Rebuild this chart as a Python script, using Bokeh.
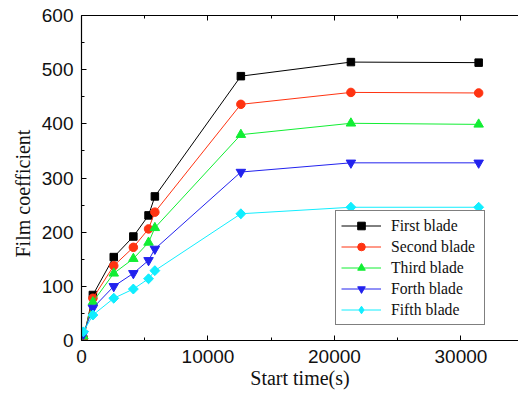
import math
from bokeh.plotting import figure
from bokeh.models import LinearAxis, Legend, LegendItem, Range1d, FixedTicker, Title
from bokeh.embed import file_html
from bokeh.resources import INLINE

# Data
start_time = [150, 900, 2550, 4100, 5300, 5800, 12600, 21300, 31400]
first_blade = [2, 84, 154, 192, 231, 266, 488, 514, 513]
second_blade = [4, 78, 138, 172, 206, 237, 436, 458, 457]
third_blade = [8, 71, 124, 151, 181, 208, 380, 401, 399]
forth_blade = [12, 60, 100, 124, 148, 169, 311, 328, 328]
fifth_blade = [16, 47, 78, 95, 114, 129, 234, 246, 246]
series_names = ["First blade", "Second blade", "Third blade", "Forth blade", "Fifth blade"]
x_ticks = [0, 10000, 20000, 30000]
y_ticks = [0, 100, 200, 300, 400, 500, 600]

colors = ["#000000", "#FF3311", "#11EE33", "#2222EE", "#11EEFF"]
markers = ["square", "circle", "triangle", "inverted_triangle", "square"]
angles = [0, 0, 0, 0, math.pi / 4]
sizes = [7.5, 8.5, 9.5, 9.5, 7]
series = [first_blade, second_blade, third_blade, forth_blade, fifth_blade]

p = figure(width=518, height=395, output_backend="svg", toolbar_location=None,
           x_range=Range1d(0, 34550), y_range=Range1d(0, 600),
           min_border_left=81, min_border_right=0, min_border_top=15, min_border_bottom=55,
           x_axis_location=None, y_axis_location=None)
p.outline_line_color = None
p.xgrid.visible = False
p.ygrid.visible = False
p.background_fill_color = "white"
p.border_fill_color = "white"

def style_axis(ax, labels=True):
    ax.axis_line_color = "black"
    ax.axis_line_width = 1.2
    ax.major_tick_in = 5
    ax.major_tick_out = 0
    ax.minor_tick_in = 3
    ax.minor_tick_out = 0
    ax.major_tick_line_color = "black"
    ax.minor_tick_line_color = "black"
    ax.major_label_text_font = "Liberation Sans"
    ax.major_label_text_font_size = "19px"
    ax.major_label_text_color = "#111111"
    ax.axis_label_text_font = "Liberation Serif"
    ax.axis_label_text_font_size = "20px"
    ax.axis_label_text_font_style = "normal"
    ax.axis_label_text_color = "#111111"
    if not labels:
        ax.major_label_text_font_size = "0px"
        ax.major_label_text_alpha = 0

xt = FixedTicker(ticks=x_ticks, minor_ticks=[5000, 15000, 25000])
yt = FixedTicker(ticks=y_ticks, minor_ticks=[50, 150, 250, 350, 450, 550])

xb = LinearAxis(ticker=xt, axis_label="Start time(s)")
style_axis(xb)
xb.major_label_standoff = 9
xb.axis_label_standoff = 1
p.add_layout(xb, "below")

xtop = LinearAxis(ticker=xt)
style_axis(xtop, labels=False)
p.add_layout(xtop, "above")

yl = LinearAxis(ticker=yt)
style_axis(yl)
yl.major_label_standoff = 8
p.add_layout(yl, "left")

ytitle = Title(text="Film coefficient", align="left", offset=83,
               text_font="Liberation Serif", text_font_size="20px",
               text_font_style="normal", text_color="#111111", standoff=10)
p.add_layout(ytitle, "left")

items = []
for name, vals, c, m, a, s in zip(series_names, series, colors, markers, angles, sizes):
    r1 = p.line(start_time, vals, line_color=c, line_width=1)
    r2 = p.scatter(start_time, vals, marker=m, angle=a, size=s, fill_color=c, line_color=c)
    if a != 0:
        # true diamond, hidden under the rotated square; used for the legend glyph
        r2 = p.scatter(start_time, vals, marker="diamond", size=9, fill_color=c, line_color=c)
    items.append(LegendItem(label=name, renderers=[r1, r2]))

legend = Legend(items=items, location=(254, 15))
legend.label_text_font = "Liberation Serif"
legend.label_text_font_size = "15.7px"
legend.label_text_color = "#111111"
legend.border_line_color = "black"
legend.border_line_width = 1
legend.background_fill_alpha = 1
legend.glyph_width = 40
legend.glyph_height = 19
legend.label_height = 19
legend.label_width = 88
legend.spacing = 2
legend.padding = 5
legend.margin = 0
legend.label_standoff = 10
p.add_layout(legend, "center")

open("out.html", "w").write(file_html(p, INLINE))
